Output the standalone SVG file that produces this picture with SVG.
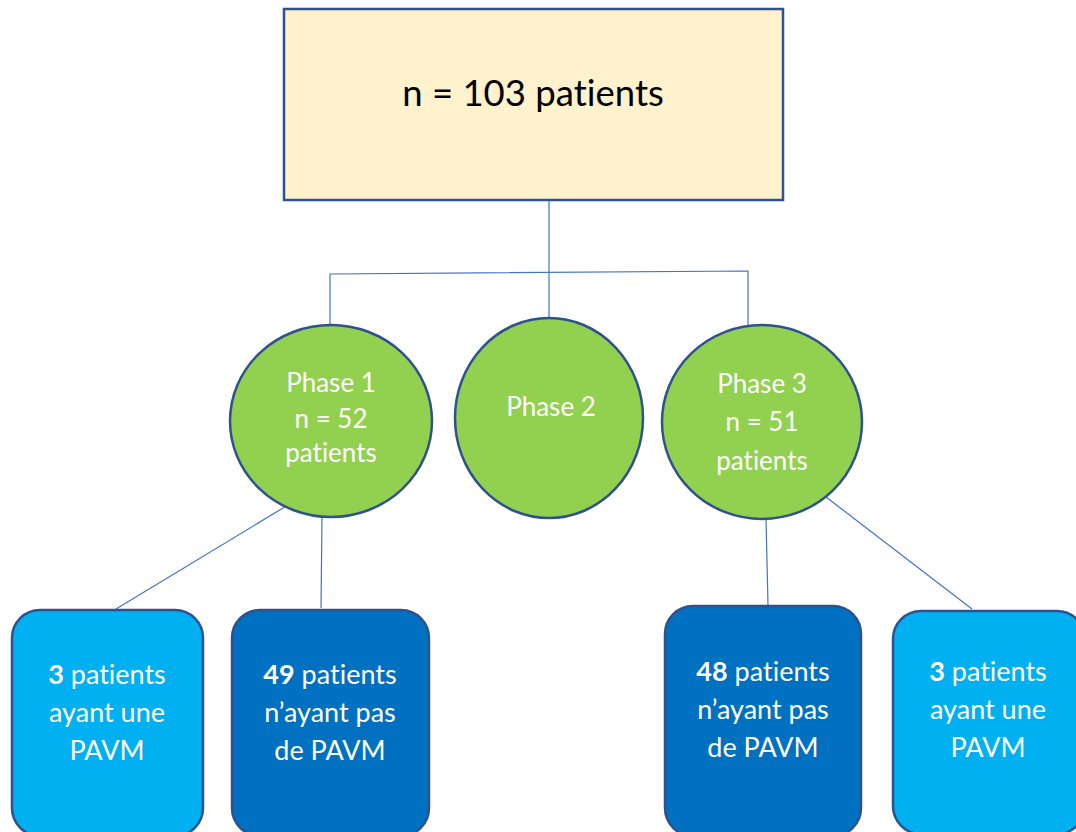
<svg xmlns="http://www.w3.org/2000/svg" width="1076" height="832" viewBox="0 0 1076 832">
<style>
.shape{stroke:#2F528F;stroke-width:2.5}
.conn{stroke:#4472C4;stroke-width:1.2;fill:none}
.t{font-family:Lato,"Liberation Sans",sans-serif;text-anchor:middle;fill:#fff;font-variant-ligatures:none;font-feature-settings:"liga" 0,"clig" 0,"dlig" 0}
.c{font-size:26px}
.b{font-size:27px}
.top{font-size:36.5px;fill:#000}
.light{fill:#00B0F0}
.dark{fill:#0070C0}
.green{fill:#92D050}
</style>
<rect width="1076" height="832" fill="#fff"/>
<g id="connectors">
<line class="conn" x1="549" y1="200" x2="549" y2="318"/>
<polyline class="conn" points="330,326 330,274 748,271 748,325"/>
<line class="conn" x1="288" y1="505" x2="116" y2="609"/>
<line class="conn" x1="322" y1="517" x2="321" y2="608"/>
<line class="conn" x1="766" y1="519" x2="768" y2="605"/>
<line class="conn" x1="826" y1="497" x2="972" y2="609"/>
</g>
<g id="root">
<rect class="shape" x="284" y="9" width="499" height="191" fill="#FFF2CC"/>
<text class="t top" x="533" y="106">n = 103 patients</text>
</g>
<g id="phase1">
<ellipse class="shape green" cx="331" cy="421" rx="101" ry="96"/>
<text class="t c" x="331" y="392">Phase 1</text>
<text class="t c" x="331" y="428">n = 52</text>
<text class="t c" x="331" y="462">patients</text>
</g>
<g id="phase2">
<ellipse class="shape green" cx="549" cy="418" rx="94" ry="100"/>
<text class="t c" x="551" y="416">Phase 2</text>
</g>
<g id="phase3">
<ellipse class="shape green" cx="762" cy="422" rx="100" ry="97"/>
<text class="t c" x="762" y="393">Phase 3</text>
<text class="t c" x="762" y="431">n = 51</text>
<text class="t c" x="762" y="470">patients</text>
</g>
<g id="box1">
<rect class="shape light" x="12" y="610" width="191" height="226" rx="28"/>
<text class="t b" x="107" y="684"><tspan font-weight="bold">3</tspan> patients</text>
<text class="t b" x="107" y="722">ayant une</text>
<text class="t b" x="107" y="760">PAVM</text>
</g>
<g id="box2">
<rect class="shape dark" x="232" y="610" width="197" height="226" rx="28"/>
<text class="t b" x="330" y="684"><tspan font-weight="bold">49</tspan> patients</text>
<text class="t b" x="330" y="722">n’ayant pas</text>
<text class="t b" x="330" y="760">de PAVM</text>
</g>
<g id="box3">
<rect class="shape dark" x="665" y="606" width="196" height="230" rx="28"/>
<text class="t b" x="763" y="681"><tspan font-weight="bold">48</tspan> patients</text>
<text class="t b" x="763" y="719">n’ayant pas</text>
<text class="t b" x="763" y="757">de PAVM</text>
</g>
<g id="box4">
<rect class="shape light" x="893" y="611" width="192" height="223" rx="28"/>
<text class="t b" x="988" y="681"><tspan font-weight="bold">3</tspan> patients</text>
<text class="t b" x="988" y="719">ayant une</text>
<text class="t b" x="988" y="757">PAVM</text>
</g>
</svg>
